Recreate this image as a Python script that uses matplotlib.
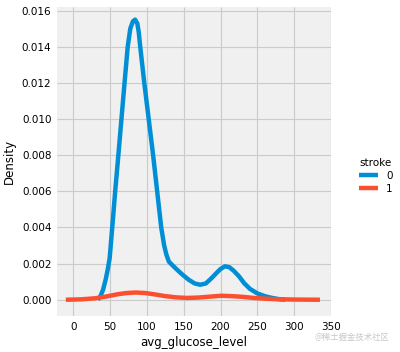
import matplotlib.pyplot as plt
import numpy as np

# KDE curves (avg_glucose_level -> density)
glucose_0 = [33.5, 37, 40.5, 44, 47, 49.5, 53, 57, 61.3, 65.5, 69.7, 74, 77.5, 81, 84, 87,
             89, 91, 96.5, 102.5, 108.5, 114, 119.5, 123.5, 126.5, 130, 135, 140, 148, 157,
             165, 172.5, 180, 188, 195, 200, 206, 212, 218, 225, 232, 240, 250, 260, 270,
             280, 288]
density_0 = [0.0, 0.0002, 0.00055, 0.0011, 0.0017, 0.0023, 0.0040, 0.0060, 0.0080, 0.0100,
             0.0120, 0.0140, 0.0150, 0.0154, 0.0155, 0.0153, 0.0148, 0.0140, 0.0120, 0.0100,
             0.0080, 0.0060, 0.0040, 0.0030, 0.0025, 0.0021, 0.0019, 0.0017, 0.0014, 0.0011,
             0.0009, 0.00083, 0.0009, 0.0012, 0.0015, 0.0017, 0.00185, 0.0018, 0.0016,
             0.0013, 0.00092, 0.0006, 0.00035, 0.0002, 0.0001, 0.00003, 0.0]

glucose_1 = [-10, 10, 30, 45, 60, 72, 85, 98, 110, 125, 140, 155, 170, 185, 201, 215, 230,
             245, 260, 275, 300, 335]
density_1 = [0.0, 0.00002, 0.00008, 0.00018, 0.0003, 0.00037, 0.0004, 0.00037, 0.0003,
             0.0002, 0.00013, 0.0001, 0.00012, 0.00017, 0.00022, 0.0002, 0.00016, 0.0001,
             0.00006, 0.00003, 0.00001, 0.0]

labels = ['0', '1']
colors = ['#008fd5', '#fc4f30']

plt.style.use('fivethirtyeight')
fig = plt.figure(figsize=(4.0, 3.52), dpi=100, facecolor='white')
ax = fig.add_axes([57 / 400, 36 / 352, 274 / 400, 309 / 352])
ax.set_facecolor('#f0f0f0')

ax.plot(glucose_0, density_0, color=colors[0], lw=3.2, label=labels[0], solid_capstyle='butt')
ax.plot(glucose_1, density_1, color=colors[1], lw=3.2, label=labels[1], solid_capstyle='butt')

ax.set_xlim(-22, 348)
ax.set_ylim(-0.0009, 0.0162)
ax.set_xticks(np.arange(0, 351, 50))
ax.set_yticks(np.arange(0, 0.0161, 0.002))
ax.tick_params(labelsize=7.5, length=0, pad=4)
ax.grid(True, color='#cbcbcb', lw=0.8)
for s in ax.spines.values():
    s.set_visible(False)

ax.set_xlabel('avg_glucose_level', fontsize=8.5, labelpad=3)
ax.set_ylabel('Density', fontsize=8.5, labelpad=4)

handles, _ = ax.get_legend_handles_labels()
leg = fig.legend(handles, labels, title='stroke', loc='center', bbox_to_anchor=(376 / 400, 1 - 176 / 352),
                 frameon=False, fontsize=7.5, title_fontsize=7.5, handlelength=1.8, labelspacing=0.3)

fig.text(389 / 400, 1 - 337 / 352, '@稀土掘金技术社区', ha='right', va='center', fontsize=6,
         color='#c8c8c8', family=['Noto Sans CJK SC', 'DejaVu Sans'])

fig.savefig('out.png', dpi=100, facecolor='white')
